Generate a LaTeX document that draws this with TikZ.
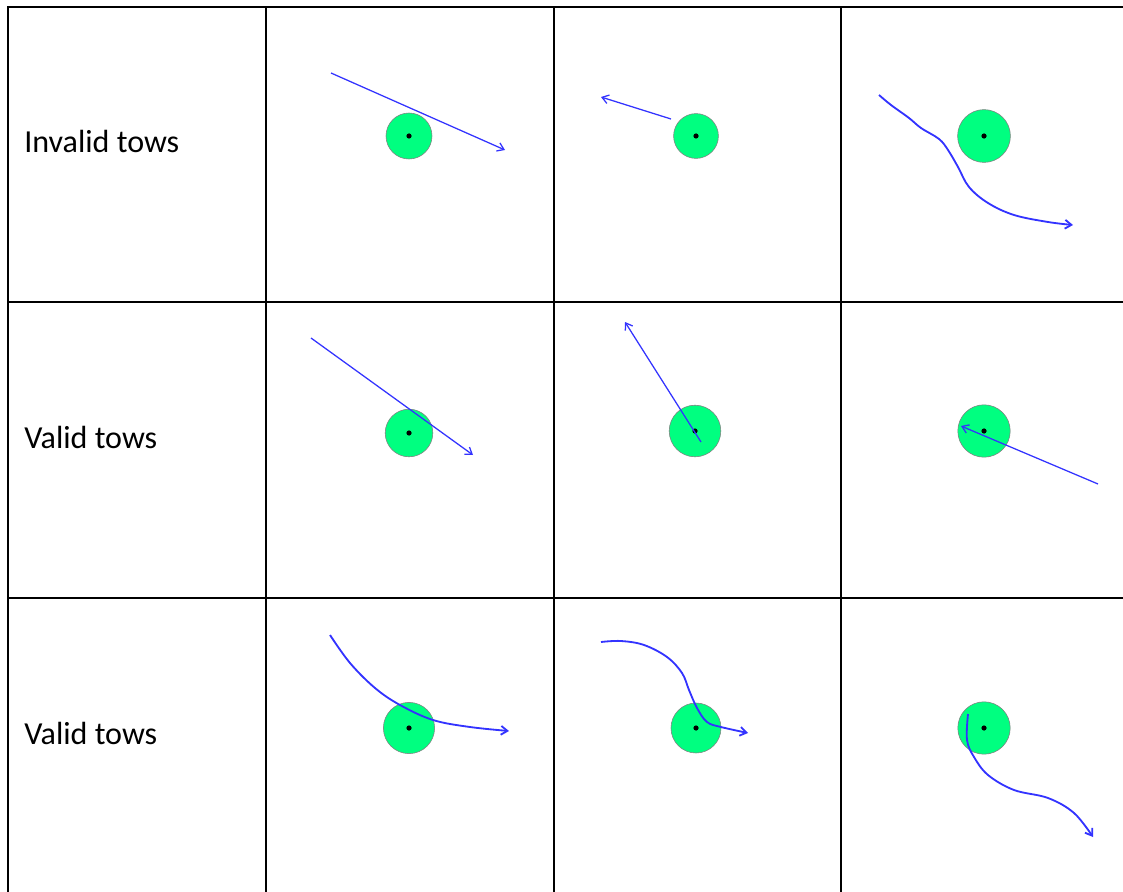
\documentclass[tikz,border=0pt]{standalone}
\usepackage{fontspec}
\setmainfont{Carlito}
\usetikzlibrary{arrows.meta}

\definecolor{TowColor}{rgb}{0.2,0.2,1.0}
\definecolor{ZoneColor}{rgb}{0.0,1.0,0.5}
\tikzstyle{rowtitle}=[anchor=west,
                      inner sep=0pt,
                      font=\fontsize{22.8}{26}\selectfont
                     ]
\tikzstyle{zone}=[circle,
                  draw=gray,
                  fill=ZoneColor,
                  inner sep=0pt
                 ]
\tikzstyle{pin}=[circle, fill=black, inner sep=0pt, minimum size=1.3mm]
\tikzstyle{tow}=[draw=TowColor, line width=0.9pt,
                 -{Straight Barb[length=1.6mm, width=2.2mm]}]
\tikzstyle{curvedtow}=[tow, line width=1.3pt, line join=round]
\tikzstyle{gridline}=[line width=1.4pt]

\begin{document}
\begin{tikzpicture}[x=0.025cm, y=-0.025cm]
\useasboundingbox (0,0) rectangle (1123,892);

% table
\draw[gridline] (8,892) -- (8,7) -- (1123,7);
\draw[gridline] (8,302) -- (1123,302);
\draw[gridline] (8,598) -- (1123,598);
\draw[gridline] (266,7) -- (266,892);
\draw[gridline] (554,7) -- (554,892);
\draw[gridline] (841,7) -- (841,892);

\node at (24,141) (title1) [rowtitle] {Invalid tows};
\node at (24,437) (title2) [rowtitle] {Valid tows};
\node at (24,733) (title3) [rowtitle] {Valid tows};

% row 1
\node at (409,136) (zone11) [zone, minimum size=1.15cm] {};
\node at (409,136) (pin11)  [pin] {};
\coordinate (start11) at (331,73);
\coordinate (end11)   at (505,150);
\draw[tow] (start11) -- (end11);

\node at (696,136) (zone12) [zone, minimum size=1.12cm] {};
\node at (696,136) (pin12)  [pin] {};
\coordinate (start12) at (671,119);
\coordinate (end12)   at (601,97);
\draw[tow] (start12) -- (end12);

\node at (984,136) (zone13) [zone, minimum size=1.32cm] {};
\node at (984,136) (pin13)  [pin] {};
\draw[curvedtow] plot[smooth, tension=0.6] coordinates {(879,95) (891,105) (909,118) (921,128) (939,139)
  (948,150) (958,167) (969,187) (988,203) (1014,215) (1048,222) (1073,225)};

% row 2
\node at (409,433) (zone21) [zone, minimum size=1.19cm] {};
\node at (409,433) (pin21)  [pin] {};
\coordinate (start21) at (311,338);
\coordinate (end21)   at (473,455);
\draw[tow] (start21) -- (end21);

\node at (695,431) (zone22) [zone, minimum size=1.29cm] {};
\node at (695,431) (pin22)  [pin] {};
\coordinate (start22) at (701,442);
\coordinate (end22)   at (625,322);
\draw[tow] (start22) -- (end22);

\node at (984,431) (zone23) [zone, minimum size=1.31cm] {};
\node at (984,431) (pin23)  [pin] {};
\coordinate (start23) at (1098,484);
\coordinate (end23)   at (961,426);
\draw[tow] (start23) -- (end23);

% row 3
\node at (409,728) (zone31) [zone, minimum size=1.28cm] {};
\node at (409,728) (pin31)  [pin] {};
\draw[curvedtow] plot[smooth, tension=0.6] coordinates {(330,635) (350,663) (375,688) (400,705)
  (433,720) (470,727) (509,731)};

\node at (696,728) (zone32) [zone, minimum size=1.25cm] {};
\node at (696,728) (pin32)  [pin] {};
\draw[curvedtow] plot[smooth, tension=0.6] coordinates {(601,642) (621,641) (644,645) (667,657) (682,673)
  (689,690) (697,708) (707,722) (721,727) (748,733)};

\node at (984,728) (zone33) [zone, minimum size=1.31cm] {};
\node at (984,728) (pin33)  [pin] {};
\draw[curvedtow] plot[smooth, tension=0.6] coordinates {(968,714) (967,740) (974,757) (988,775) (1014,790)
  (1048,798) (1074,813) (1093,837)};
\end{tikzpicture}
\end{document}
